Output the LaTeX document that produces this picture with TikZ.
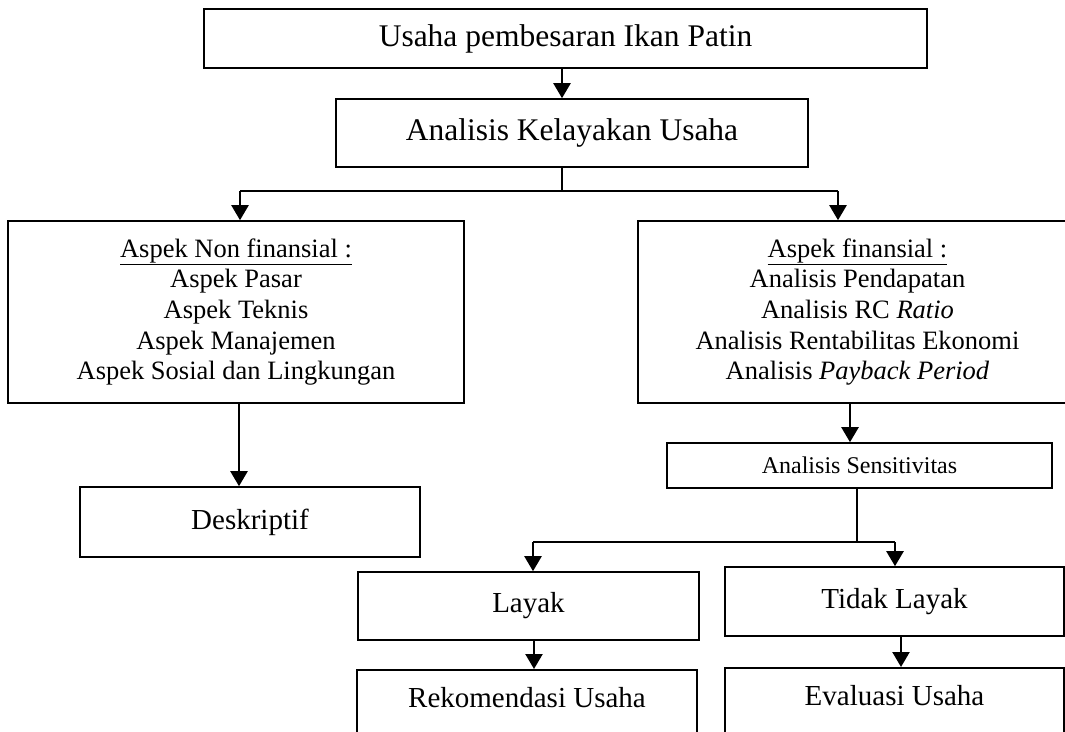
\documentclass[tikz,border=0pt]{standalone}
\usepackage{fontspec}
\setmainfont{Liberation Serif}
\usetikzlibrary{arrows.meta}
\tikzset{
  box/.style={draw=black, line width=1.6pt, fill=white, inner sep=0pt, align=center},
  ttl/.style={font=\fontsize{31.5}{36}\selectfont},
  lst/.style={font=\fontsize{26.5}{30.7}\selectfont},
  mid/.style={font=\fontsize{29}{33}\selectfont},
  sml/.style={font=\fontsize{24}{28}\selectfont},
  ln/.style={draw=black, line width=1.4pt},
  arr/.style={draw=black, line width=2.3pt, -{Triangle[width=17pt,length=15pt]}}
}
\begin{document}
\begin{tikzpicture}[x=1pt,y=1pt]
\useasboundingbox (0,0) rectangle (1065,-731);
\clip (0,0) rectangle (1065,-731);
\fill[white] (0,0) rectangle (1065,-731);

\node[box, ttl, minimum width=723pt, minimum height=59pt] (b1) at (565.5,-38.5) {Usaha pembesaran Ikan Patin};
\node[box, ttl, minimum width=472pt, minimum height=68pt] (b2) at (572,-133) {Analisis Kelayakan Usaha};

\node[box, lst, minimum width=456pt, minimum height=182pt] (na) at (236,-312)
  {\underline{Aspek Non finansial :}\\Aspek Pasar\\Aspek Teknis\\Aspek Manajemen\\Aspek Sosial dan Lingkungan};
\node[box, lst, minimum width=439pt, minimum height=182pt] (fa) at (857.5,-312)
  {\underline{Aspek finansial :}\\Analisis Pendapatan\\Analisis RC \textit{Ratio}\\Analisis Rentabilitas Ekonomi\\Analisis \textit{Payback Period}};

\node[box, mid, minimum width=340pt, minimum height=70pt] (ds) at (250,-522) {Deskriptif};
\node[box, sml, minimum width=385pt, minimum height=45pt] (se) at (859.5,-465.5) {Analisis Sensitivitas};

\node[box, mid, minimum width=341pt, minimum height=68pt] (ly) at (528.5,-606) {Layak};
\node[box, mid, minimum width=339pt, minimum height=69pt] (tl) at (894.5,-601.5) {Tidak Layak};

\node[box, mid, anchor=north, minimum width=340pt, text height=38pt, text depth=60pt] (rk) at (527,-669) {Rekomendasi Usaha};
\node[box, mid, anchor=north, minimum width=339pt, text height=38pt, text depth=60pt] (ev) at (894.5,-667) {Evaluasi Usaha};

% connectors
\coordinate (c1) at (562,0);
\draw[arr] (b1.south -| c1) -- (b2.north -| c1);

\coordinate (j1) at (562,-191);
\coordinate (xl) at (240,0);
\coordinate (xr) at (838,0);
\draw[ln] (b2.south -| j1) -- (j1);
\draw[ln] (j1 -| xl) -- (j1 -| xr);
\draw[arr] (j1 -| xl) -- (na.north -| xl);
\draw[arr] (j1 -| xr) -- (fa.north -| xr);

\coordinate (xd) at (239,0);
\draw[arr] (na.south -| xd) -- (ds.north -| xd);

\coordinate (xs) at (850,0);
\draw[arr] (fa.south -| xs) -- (se.north -| xs);

\coordinate (j2) at (857,-542);
\coordinate (xly) at (533,0);
\coordinate (xtl) at (895,0);
\draw[ln] (se.south -| j2) -- (j2);
\draw[ln] (j2 -| xly) -- (j2 -| xtl);
\draw[arr] (j2 -| xly) -- (ly.north -| xly);
\draw[arr] (j2 -| xtl) -- (tl.north -| xtl);

\coordinate (xr2) at (534,0);
\draw[arr] (ly.south -| xr2) -- (rk.north -| xr2);
\coordinate (xe) at (901,0);
\draw[arr] (tl.south -| xe) -- (ev.north -| xe);
\end{tikzpicture}
\end{document}
